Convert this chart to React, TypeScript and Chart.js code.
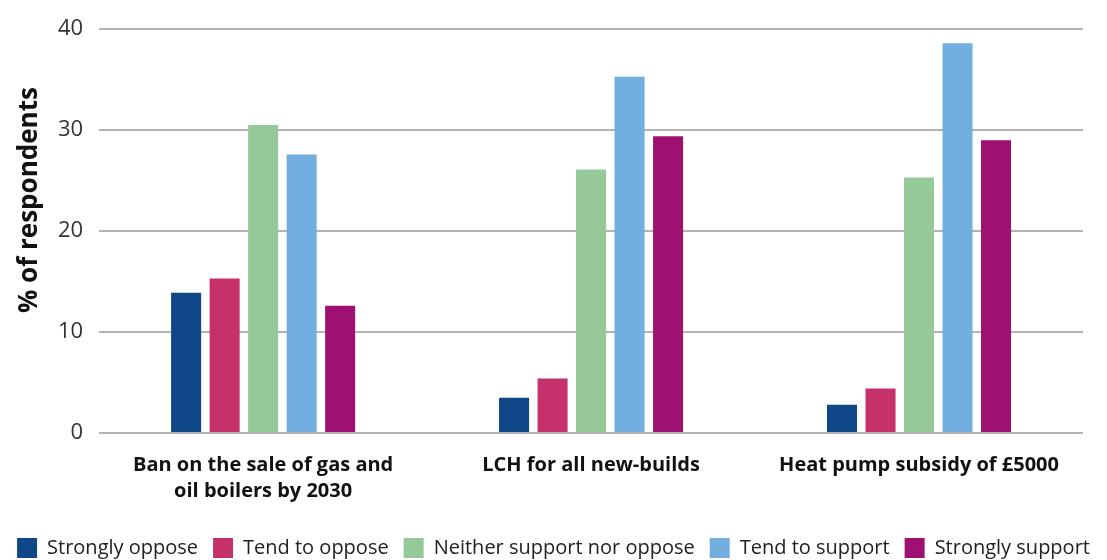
import React, { useEffect, useRef } from "react";
import { Chart, registerables } from "chart.js";

Chart.register(...registerables);

const categories: (string | string[])[] = [
  ["Ban on the sale of gas and", "oil boilers by 2030"],
  "LCH for all new-builds",
  "Heat pump subsidy of £5000",
];

const stronglyOppose = [13.9, 3.5, 2.8];
const tendToOppose = [15.3, 5.4, 4.4];
const neitherSupportNorOppose = [30.5, 26.1, 25.3];
const tendToSupport = [27.6, 35.3, 38.6];
const stronglySupport = [12.6, 29.4, 29.0];

const seriesNames = [
  "Strongly oppose",
  "Tend to oppose",
  "Neither support nor oppose",
  "Tend to support",
  "Strongly support",
];
const seriesColors = ["#0e4688", "#c5326b", "#96c99a", "#72afe0", "#9e1172"];

const yTicks = [0, 10, 20, 30, 40];
const yTitle = "% of respondents";

const FONT = "'Open Sans', 'Noto Sans', sans-serif";

// Rotated y-axis title, drawn beside the tick labels and a little above the plot's middle.
const yTitlePlugin = {
  id: "yTitle",
  afterDraw(chart: any) {
    const { ctx, chartArea } = chart;
    ctx.save();
    ctx.translate(30, (chartArea.top + chartArea.bottom) / 2 - 31);
    ctx.rotate(-Math.PI / 2);
    ctx.textAlign = "center";
    ctx.textBaseline = "middle";
    ctx.fillStyle = "#111";
    ctx.font = `bold 26px ${FONT}`;
    ctx.fillText(yTitle, 0, 0);
    ctx.restore();
  },
};

export default function App() {
  const canvasRef = useRef<HTMLCanvasElement | null>(null);

  useEffect(() => {
    if (!canvasRef.current) return;
    const values = [
      stronglyOppose,
      tendToOppose,
      neitherSupportNorOppose,
      tendToSupport,
      stronglySupport,
    ];
    const chart = new Chart(canvasRef.current, {
      type: "bar",
      data: {
        labels: categories,
        datasets: values.map((v, i) => ({
          label: seriesNames[i],
          data: v,
          backgroundColor: seriesColors[i],
          borderWidth: 0,
          categoryPercentage: 0.587,
          barPercentage: 0.78,
        })),
      },
      plugins: [yTitlePlugin],
      options: {
        animation: false,
        responsive: false,
        maintainAspectRatio: false,
        layout: { padding: { left: 0, right: 0, top: 16, bottom: -8 } },
        plugins: {
          legend: {
            position: "bottom",
            labels: {
              boxWidth: 20,
              boxHeight: 20,
              padding: 15,
              color: "#222",
              font: { family: FONT, size: 20 },
            },
          },
          tooltip: { enabled: false },
        },
        scales: {
          x: {
            grid: { display: false },
            border: { display: false },
            afterFit: (axis: any) => {
              axis.height += 8;
            },
            ticks: {
              color: "#111",
              font: { family: FONT, size: 20, weight: "bold", lineHeight: 1.3 },
              maxRotation: 0,
              padding: 11,
            },
          },
          y: {
            min: 0,
            max: 40,
            afterBuildTicks: (axis: any) => {
              axis.ticks = yTicks.map((v) => ({ value: v }));
            },
            afterFit: (axis: any) => {
              axis.width += 42;
            },
            grid: { color: "#b3b3b3", lineWidth: 2, drawTicks: false },
            border: { display: false },
            ticks: {
              color: "#333",
              font: { family: FONT, size: 22 },
              padding: 16,
            },
          },
          // Empty right-hand axis that only keeps a margin beside the plot.
          yRight: {
            position: "right",
            display: true,
            min: 0,
            max: 40,
            grid: { display: false },
            border: { display: false },
            ticks: { display: false },
            afterFit: (axis: any) => {
              axis.width = 24;
            },
          },
        },
      },
    });
    return () => chart.destroy();
  }, []);

  return (
    <div style={{ position: "absolute", left: 0, top: 0, width: 1107, height: 560, background: "#fff" }}>
      <canvas ref={canvasRef} width={1107} height={560} />
    </div>
  );
}
